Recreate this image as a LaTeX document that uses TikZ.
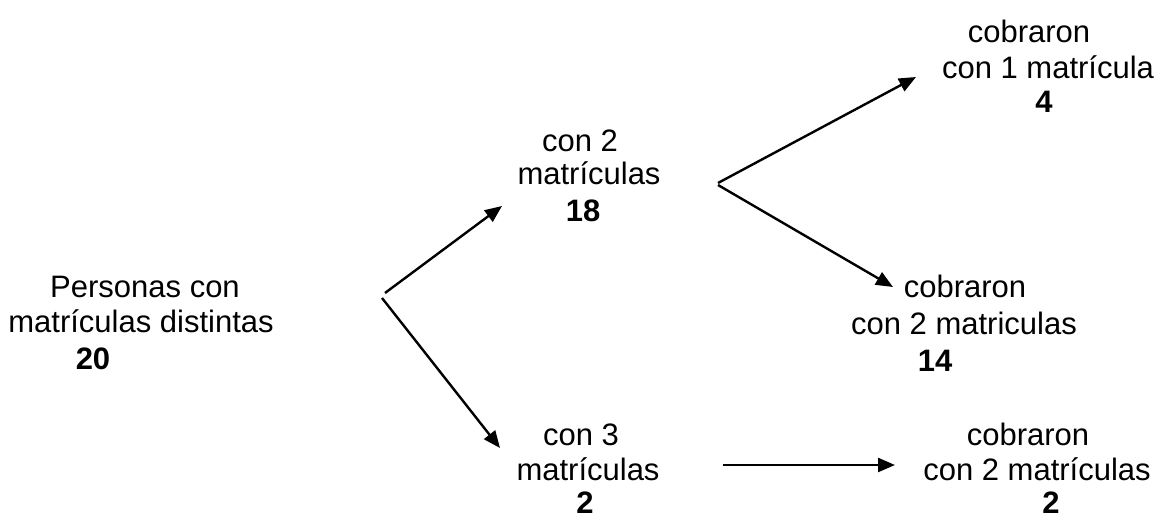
\documentclass[tikz,border=0pt]{standalone}
\usepackage{fontspec}
\setmainfont{Liberation Sans}
\usetikzlibrary{arrows.meta}

\tikzset{
  txt/.style={anchor=base, inner sep=0pt, font=\fontsize{31}{35}\selectfont},
  num/.style={txt, font=\fontsize{31}{35}\selectfont\bfseries},
  flow/.style={line width=2.4pt, -{Triangle[length=17pt,width=14pt]}}
}

\begin{document}
\begin{tikzpicture}[x=1pt,y=-1pt]
\useasboundingbox (0,0) rectangle (1157,518);

% Start
\node[txt] (pers1) at (145,298) {Personas con};
\node[txt] (pers2) at (141,333) {matrículas distintas};
\node[num] (n20) at (93,370) {20};

% First split
\node[txt] (dos1) at (580,152) {con 2};
\node[txt] (dos2) at (589,185) {matrículas};
\node[num] (n18) at (583,222) {18};

\node[txt] (tres1) at (581,446) {con 3};
\node[txt] (tres2) at (588,481) {matrículas};
\node[num] (n2a) at (585,513) {2};

% Outcomes
\node[txt] (uno1) at (1029,43) {cobraron};
\node[txt] (uno2) at (1048,79) {con 1 matrícula};
\node[num] (n4) at (1044,113) {4};

\node[txt] (cdos1) at (965,298) {cobraron};
\node[txt] (cdos2) at (964,335) {con 2 matriculas};
\node[num] (n14) at (935,372) {14};

\node[txt] (tdos1) at (1028,446) {cobraron};
\node[txt] (tdos2) at (1037,481) {con 2 matrículas};
\node[num] (n2b) at (1051,513) {2};

% Arrows
\coordinate (forkA) at (385,293);
\coordinate (forkB) at (382,298);
\coordinate (toDos) at (502,206);
\coordinate (toTres) at (500,448);
\coordinate (forkC) at (718,183);
\coordinate (forkD) at (718,185);
\coordinate (toUno) at (916,77);
\coordinate (toCdos) at (893,287);
\coordinate (fromTres) at (723,465);
\coordinate (toTdos) at (895,465);

\draw[flow] (forkA) -- (toDos);
\draw[flow] (forkB) -- (toTres);
\draw[flow] (forkC) -- (toUno);
\draw[flow] (forkD) -- (toCdos);
\draw[flow] (fromTres) -- (toTdos);
\end{tikzpicture}
\end{document}
